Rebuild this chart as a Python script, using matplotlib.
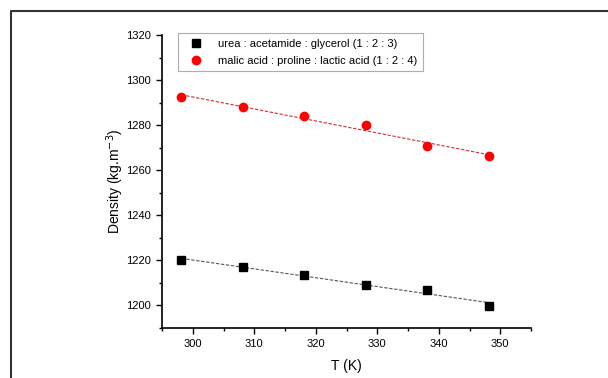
import numpy as np
import matplotlib.pyplot as plt
from matplotlib.lines import Line2D
from matplotlib.ticker import MultipleLocator

plt.rcParams['font.family'] = ['Liberation Sans', 'DejaVu Sans']

# Data
T = [298.15, 308.15, 318.15, 328.15, 338.15, 348.15]
rho_uag = [1220.3, 1216.9, 1213.5, 1209.2, 1206.8, 1199.7]
rho_mpl = [1292.3, 1288.0, 1283.9, 1280.0, 1270.7, 1266.2]

label_uag = "urea : acetamide : glycerol (1 : 2 : 3)"
label_mpl = "malic acid : proline : lactic acid (1 : 2 : 4)"

fig = plt.figure(figsize=(6.08, 3.78), dpi=100)
ax = fig.add_axes([162 / 608, 1 - 328 / 378, (531 - 162) / 608, (328 - 35) / 378])

# outer frame around the picture (only left and top edges are in view)
fx = 11 / 608
fy = 1 - 10.5 / 378
fig.lines.append(Line2D([fx, fx, 1.0], [0.0, fy, fy], transform=fig.transFigure,
                        color="#333333", linewidth=1.5))

# linear fits
t = np.array(T)
for rho, col in [(rho_uag, "#555555"), (rho_mpl, "#d03030")]:
    p = np.polyfit(t, rho, 1)
    ax.plot(t, np.polyval(p, t), linestyle=(0, (3, 1.5)), color=col, lw=0.8, zorder=1)

ax.plot(T, rho_uag, "s", color="black", markersize=5.5, label=label_uag, zorder=3)
ax.plot(T, rho_mpl, "o", color="red", markersize=6, label=label_mpl, zorder=3)

ax.set_xlim(295, 355)
ax.set_ylim(1190, 1320)
ax.xaxis.set_major_locator(MultipleLocator(10))
ax.xaxis.set_minor_locator(MultipleLocator(5))
ax.yaxis.set_major_locator(MultipleLocator(20))
ax.yaxis.set_minor_locator(MultipleLocator(10))

for s in ["top", "right"]:
    ax.spines[s].set_visible(False)
for s in ["left", "bottom"]:
    ax.spines[s].set_linewidth(1.2)

ax.tick_params(which="major", direction="out", length=4, width=1, labelsize=8, pad=4)
ax.tick_params(which="minor", direction="out", length=2.5, width=1)

ax.set_xlabel("T (K)", fontsize=10, labelpad=7)
ax.set_ylabel("Density (kg.m$^{-3}$)", fontsize=10, labelpad=0)

leg = ax.legend(loc="upper left", bbox_to_anchor=(16 / 369, 1.007), borderaxespad=0,
                fontsize=8, frameon=True, fancybox=False, edgecolor="#999999",
                borderpad=0.5, handletextpad=0.9, labelspacing=0.65,
                handlelength=2.2)
leg.get_frame().set_linewidth(0.8)

fig.savefig("out.png", dpi=100)
